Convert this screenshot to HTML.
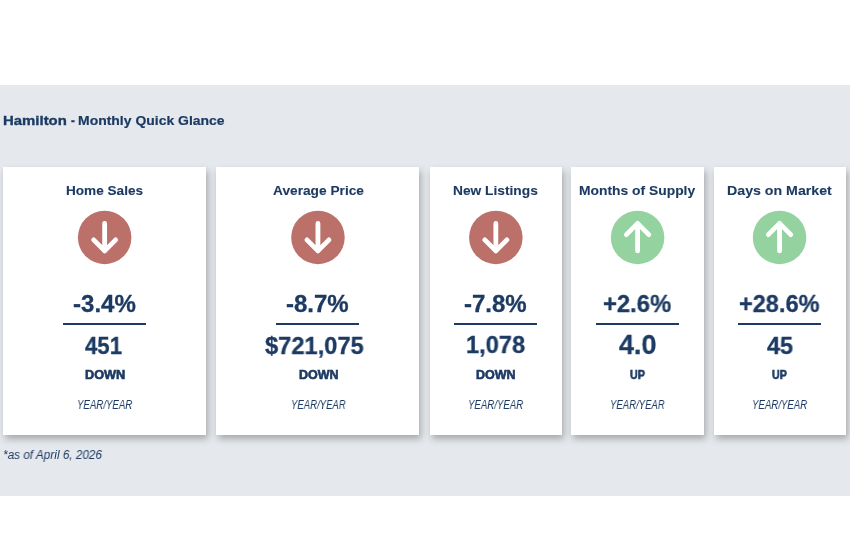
<!DOCTYPE html>
<html><head><meta charset="utf-8">
<style>
html,body{-webkit-font-smoothing:antialiased;margin:0;padding:0;background:#fff;width:850px;height:535px;overflow:hidden;position:relative;font-family:"Liberation Sans",sans-serif;color:#1c3a62}
.band{position:absolute;left:0;top:85px;width:850px;height:411px;background:#e5e9ed}
.card{position:absolute;top:167px;height:268px;background:#fff;box-shadow:2px 4px 7px rgba(0,0,0,0.28)}
.t{will-change:transform;position:absolute;line-height:1;white-space:nowrap;transform-origin:0 0}
.line{position:absolute;top:323px;height:2px;width:83px;background:#1c3a62}
.ic{position:absolute;top:207px;width:60px;height:60px;overflow:visible}
</style></head><body>
<div class="band"></div>

<div class="t" style="left:2.89px;top:113.60px;font-size:13.5px;font-weight:700;font-style:normal;transform:scaleX(1.1054);-webkit-text-stroke:0.35px #1c3a62;">Hamilton</div>
<div class="t" style="left:71.20px;top:113.60px;font-size:13.5px;font-weight:700;font-style:normal;transform:scaleX(0.875);-webkit-text-stroke:0.35px #1c3a62;">-</div>
<div class="t" style="left:78.17px;top:113.60px;font-size:13.5px;font-weight:700;font-style:normal;transform:scaleX(1.0343);-webkit-text-stroke:0.2px #1c3a62;">Monthly Quick Glance</div>
<div class="card" style="left:3px;width:203px"></div>
<div class="card" style="left:216px;width:203px"></div>
<div class="card" style="left:430px;width:132px"></div>
<div class="card" style="left:571px;width:133px"></div>
<div class="card" style="left:714px;width:132px"></div>
<!-- card 1 -->
<div class="t" style="left:66.09px;top:183.50px;font-size:13.5px;font-weight:700;font-style:normal;transform:scaleX(1.0067);-webkit-text-stroke:0.1px #1c3a62;">Home Sales</div>
<svg class="ic" style="left:74px" viewBox="-4.15 -3.90 60 60"><circle cx="26.5" cy="26.5" r="26.75" fill="#bb706a"/><path d="M26.5 12.5 V40 M15.5 29 L26.5 40 L37.5 29" stroke="#fff" stroke-width="4.8" fill="none" stroke-linecap="round" stroke-linejoin="round"/></svg>
<div class="t" style="left:72.80px;top:292.20px;font-size:24px;font-weight:700;font-style:normal;transform:scaleX(1.0033);-webkit-text-stroke:0.3px #1c3a62;">-3.4%</div>
<div class="line" style="left:63px"></div>
<div class="t" style="left:84.70px;top:333.90px;font-size:24px;font-weight:700;font-style:normal;transform:scaleX(0.925);-webkit-text-stroke:0.3px #1c3a62;">451</div>
<div class="t" style="left:85.00px;top:369.10px;font-size:12px;font-weight:700;font-style:normal;transform:scaleX(1.0595);-webkit-text-stroke:0.6px #1c3a62;">DOWN</div>
<div class="t" style="left:77.20px;top:399.30px;font-size:12px;font-weight:400;font-style:italic;transform:scaleX(0.8045);-webkit-text-stroke:0px #1c3a62;">YEAR/YEAR</div>
<!-- card 2 -->
<div class="t" style="left:272.60px;top:183.50px;font-size:13.5px;font-weight:700;font-style:normal;transform:scaleX(1.0157);-webkit-text-stroke:0.1px #1c3a62;">Average Price</div>
<svg class="ic" style="left:287px" viewBox="-4.45 -3.90 60 60"><circle cx="26.5" cy="26.5" r="26.75" fill="#bb706a"/><path d="M26.5 12.5 V40 M15.5 29 L26.5 40 L37.5 29" stroke="#fff" stroke-width="4.8" fill="none" stroke-linecap="round" stroke-linejoin="round"/></svg>
<div class="t" style="left:286.00px;top:292.20px;font-size:24px;font-weight:700;font-style:normal;transform:scaleX(1.0);-webkit-text-stroke:0.3px #1c3a62;">-8.7%</div>
<div class="line" style="left:276.3px"></div>
<div class="t" style="left:265.00px;top:333.90px;font-size:24px;font-weight:700;font-style:normal;transform:scaleX(0.986);-webkit-text-stroke:0.3px #1c3a62;">$721,075</div>
<div class="t" style="left:298.50px;top:369.10px;font-size:12px;font-weight:700;font-style:normal;transform:scaleX(1.0432);-webkit-text-stroke:0.6px #1c3a62;">DOWN</div>
<div class="t" style="left:290.70px;top:399.30px;font-size:12px;font-weight:400;font-style:italic;transform:scaleX(0.797);-webkit-text-stroke:0px #1c3a62;">YEAR/YEAR</div>
<!-- card 3 -->
<div class="t" style="left:452.98px;top:183.50px;font-size:13.5px;font-weight:700;font-style:normal;transform:scaleX(1.0183);-webkit-text-stroke:0.1px #1c3a62;">New Listings</div>
<svg class="ic" style="left:465px" viewBox="-4.35 -3.90 60 60"><circle cx="26.5" cy="26.5" r="26.75" fill="#bb706a"/><path d="M26.5 12.5 V40 M15.5 29 L26.5 40 L37.5 29" stroke="#fff" stroke-width="4.8" fill="none" stroke-linecap="round" stroke-linejoin="round"/></svg>
<div class="t" style="left:463.70px;top:292.20px;font-size:24px;font-weight:700;font-style:normal;transform:scaleX(1.0);-webkit-text-stroke:0.3px #1c3a62;">-7.8%</div>
<div class="line" style="left:454px"></div>
<div class="t" style="left:465.62px;top:333.20px;font-size:24px;font-weight:700;font-style:normal;transform:scaleX(0.9847);-webkit-text-stroke:0.3px #1c3a62;">1,078</div>
<div class="t" style="left:476.20px;top:369.10px;font-size:12px;font-weight:700;font-style:normal;transform:scaleX(1.0432);-webkit-text-stroke:0.6px #1c3a62;">DOWN</div>
<div class="t" style="left:468.30px;top:399.30px;font-size:12px;font-weight:400;font-style:italic;transform:scaleX(0.803);-webkit-text-stroke:0px #1c3a62;">YEAR/YEAR</div>
<!-- card 4 -->
<div class="t" style="left:579.47px;top:183.50px;font-size:13.5px;font-weight:700;font-style:normal;transform:scaleX(1.0259);-webkit-text-stroke:0.1px #1c3a62;">Months of Supply</div>
<svg class="ic" style="left:607px" viewBox="-4.10 -3.90 60 60"><circle cx="26.5" cy="26.5" r="26.75" fill="#94d2a0"/><path d="M26.5 40 V12.5 M15.25 23.75 L26.5 12.5 L37.75 23.75" stroke="#fff" stroke-width="4.8" fill="none" stroke-linecap="round" stroke-linejoin="round"/></svg>
<div class="t" style="left:603.01px;top:292.20px;font-size:24px;font-weight:700;font-style:normal;transform:scaleX(0.991);-webkit-text-stroke:0.3px #1c3a62;">+2.6%</div>
<div class="line" style="left:596px"></div>
<div class="t" style="left:618.90px;top:329.90px;font-size:28.5px;font-weight:700;font-style:normal;transform:scaleX(0.9462);-webkit-text-stroke:0.3px #1c3a62;">4.0</div>
<div class="t" style="left:630.10px;top:369.00px;font-size:12px;font-weight:700;font-style:normal;transform:scaleX(0.8882);-webkit-text-stroke:0.6px #1c3a62;">UP</div>
<div class="t" style="left:610.40px;top:399.30px;font-size:12px;font-weight:400;font-style:italic;transform:scaleX(0.797);-webkit-text-stroke:0px #1c3a62;">YEAR/YEAR</div>
<!-- card 5 -->
<div class="t" style="left:726.95px;top:183.50px;font-size:13.5px;font-weight:700;font-style:normal;transform:scaleX(1.0505);-webkit-text-stroke:0.1px #1c3a62;">Days on Market</div>
<svg class="ic" style="left:749px" viewBox="-4.05 -3.90 60 60"><circle cx="26.5" cy="26.5" r="26.75" fill="#94d2a0"/><path d="M26.5 40 V12.5 M15.25 23.75 L26.5 12.5 L37.75 23.75" stroke="#fff" stroke-width="4.8" fill="none" stroke-linecap="round" stroke-linejoin="round"/></svg>
<div class="t" style="left:739.02px;top:292.20px;font-size:24px;font-weight:700;font-style:normal;transform:scaleX(0.9802);-webkit-text-stroke:0.3px #1c3a62;">+28.6%</div>
<div class="line" style="left:738px"></div>
<div class="t" style="left:766.75px;top:334.00px;font-size:24px;font-weight:700;font-style:normal;transform:scaleX(0.9788);-webkit-text-stroke:0.3px #1c3a62;">45</div>
<div class="t" style="left:772.00px;top:369.00px;font-size:12px;font-weight:700;font-style:normal;transform:scaleX(0.8824);-webkit-text-stroke:0.6px #1c3a62;">UP</div>
<div class="t" style="left:752.00px;top:399.30px;font-size:12px;font-weight:400;font-style:italic;transform:scaleX(0.803);-webkit-text-stroke:0px #1c3a62;">YEAR/YEAR</div>
<div class="t" style="left:2.92px;top:449.10px;font-size:12px;font-weight:400;font-style:italic;transform:scaleX(0.981);-webkit-text-stroke:0px #1c3a62;">*as of April 6, 2026</div>
</body></html>
